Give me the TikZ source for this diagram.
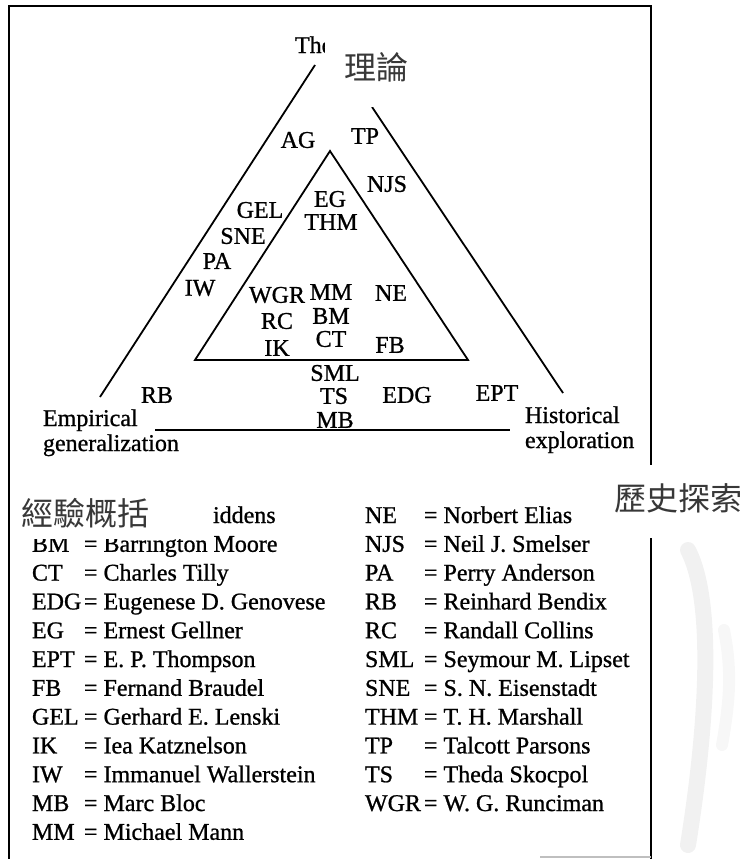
\documentclass[tikz,border=0pt]{standalone}
\usepackage{fontspec}
\setmainfont{Liberation Serif}[FakeBold=0.9]
\newfontfamily\cjkfont{Noto Sans CJK TC}
\begin{document}
\begin{tikzpicture}[x=1pt,y=-1pt,
  lbl/.style={inner sep=0pt, outer sep=0pt, font=\fontsize{24}{28}\selectfont},
  cjk/.style={inner sep=0pt, outer sep=0pt, font=\cjkfont\fontsize{32}{36}\selectfont, text=black!78},
  ln/.style={line width=1.8pt},
  frame/.style={line width=2.4pt}]
\useasboundingbox (0,0) rectangle (745,859);

% scan stripe
\draw[gray!11, line width=16pt, line cap=round] (688,550) .. controls (714,600) and (708,720) .. (688,845);
\draw[gray!6, line width=12pt, line cap=round] (724,630) .. controls (732,670) and (730,700) .. (722,745);

% frame
\draw[frame] (9,859) -- (9,6) -- (651,6) -- (651,859);
\draw[gray!50, line width=1.5pt] (540,857) -- (651,857);

% triangles
\coordinate (oLt) at (315,65);
\coordinate (oL) at (100,397);
\coordinate (oRt) at (372,107);
\coordinate (oR) at (563,393);
\coordinate (bL) at (155,430);
\coordinate (bR) at (510,430);
\coordinate (iA) at (330,151);
\coordinate (iL) at (195,360);
\coordinate (iR) at (468,360);
\draw[ln] (oLt) -- (oL);
\draw[ln] (oRt) -- (oR);
\draw[ln] (bL) -- (bR);
\draw[ln, line join=miter] (iA) -- (iL) -- (iR) -- cycle;

% labels
\node[lbl, anchor=base west] (the) at (295,53) {The};
\node[lbl] (AG) at (298,140) {AG};
\node[lbl] (TP) at (365,136) {TP};
\node[lbl] (NJS) at (387,184) {NJS};
\node[lbl] (EG) at (330,199) {EG};
\node[lbl] (GEL) at (260,210) {GEL};
\node[lbl] (THM) at (331,222) {THM};
\node[lbl] (SNE) at (243,236) {SNE};
\node[lbl] (PA) at (217,261) {PA};
\node[lbl] (IW) at (200,288) {IW};
\node[lbl] (WGR) at (277,295) {WGR};
\node[lbl] (MM) at (331,292) {MM};
\node[lbl] (NE) at (391,293) {NE};
\node[lbl] (RC) at (277,321) {RC};
\node[lbl] (BM) at (331,316) {BM};
\node[lbl] (IK) at (277,348) {IK};
\node[lbl] (CT) at (331,339) {CT};
\node[lbl] (FB) at (390,345) {FB};
\node[lbl] (SML) at (335,373) {SML};
\node[lbl] (TS) at (334,396) {TS};
\node[lbl] (MB) at (335,420) {MB};
\node[lbl] (RB) at (157,395) {RB};
\node[lbl] (EDG) at (407,395) {EDG};
\node[lbl] (EPT) at (497,393) {EPT};

\node[lbl, anchor=base west] (emp) at (43,426) {Empirical};
\node[lbl, anchor=base west] (gen) at (43,451) {generalization};
\node[lbl, anchor=base west] (his) at (525,423) {Historical};
\node[lbl, anchor=base west] (exp) at (525,448) {exploration};

% legend
\node[lbl, anchor=base west] (agn) at (213,523) {iddens};
\foreach \ab/\nm [count=\i] in {BM/Barrington Moore, CT/Charles Tilly, EDG/Eugenese D. Genovese, EG/Ernest Gellner, EPT/E. P. Thompson, FB/Fernand Braudel, GEL/Gerhard E. Lenski, IK/Iea Katznelson, IW/Immanuel Wallerstein, MB/Marc Bloc, MM/Michael Mann}{
  \node[lbl, anchor=base west] (la\i) at (32,{523+28.8*\i}) {\ab};
  \node[lbl, anchor=base west] (lb\i) at (84,{523+28.8*\i}) {= \nm};
}
\foreach \ab/\nm [count=\i from 0] in {NE/Norbert Elias, NJS/Neil J. Smelser, PA/Perry Anderson, RB/Reinhard Bendix, RC/Randall Collins, SML/Seymour M. Lipset, SNE/S. N. Eisenstadt, THM/T. H. Marshall, TP/Talcott Parsons, TS/Theda Skocpol, WGR/W. G. Runciman}{
  \node[lbl, anchor=base west] (ra\i) at (365,{523+28.8*\i}) {\ab};
  \node[lbl, anchor=base west] (rb\i) at (424,{523+28.8*\i}) {= \nm};
}

% pasted Chinese labels
\fill[white] (325,33) rectangle (438,107);
\fill[white] (14,490) rectangle (212,539);
\fill[white] (597,465) rectangle (745,538);
\node[cjk] (li) at (376,67) {理論};
\node[cjk] (jy) at (85,513) {經驗概括};
\node[cjk] (ls) at (678,498) {歷史探索};
\end{tikzpicture}
\end{document}
